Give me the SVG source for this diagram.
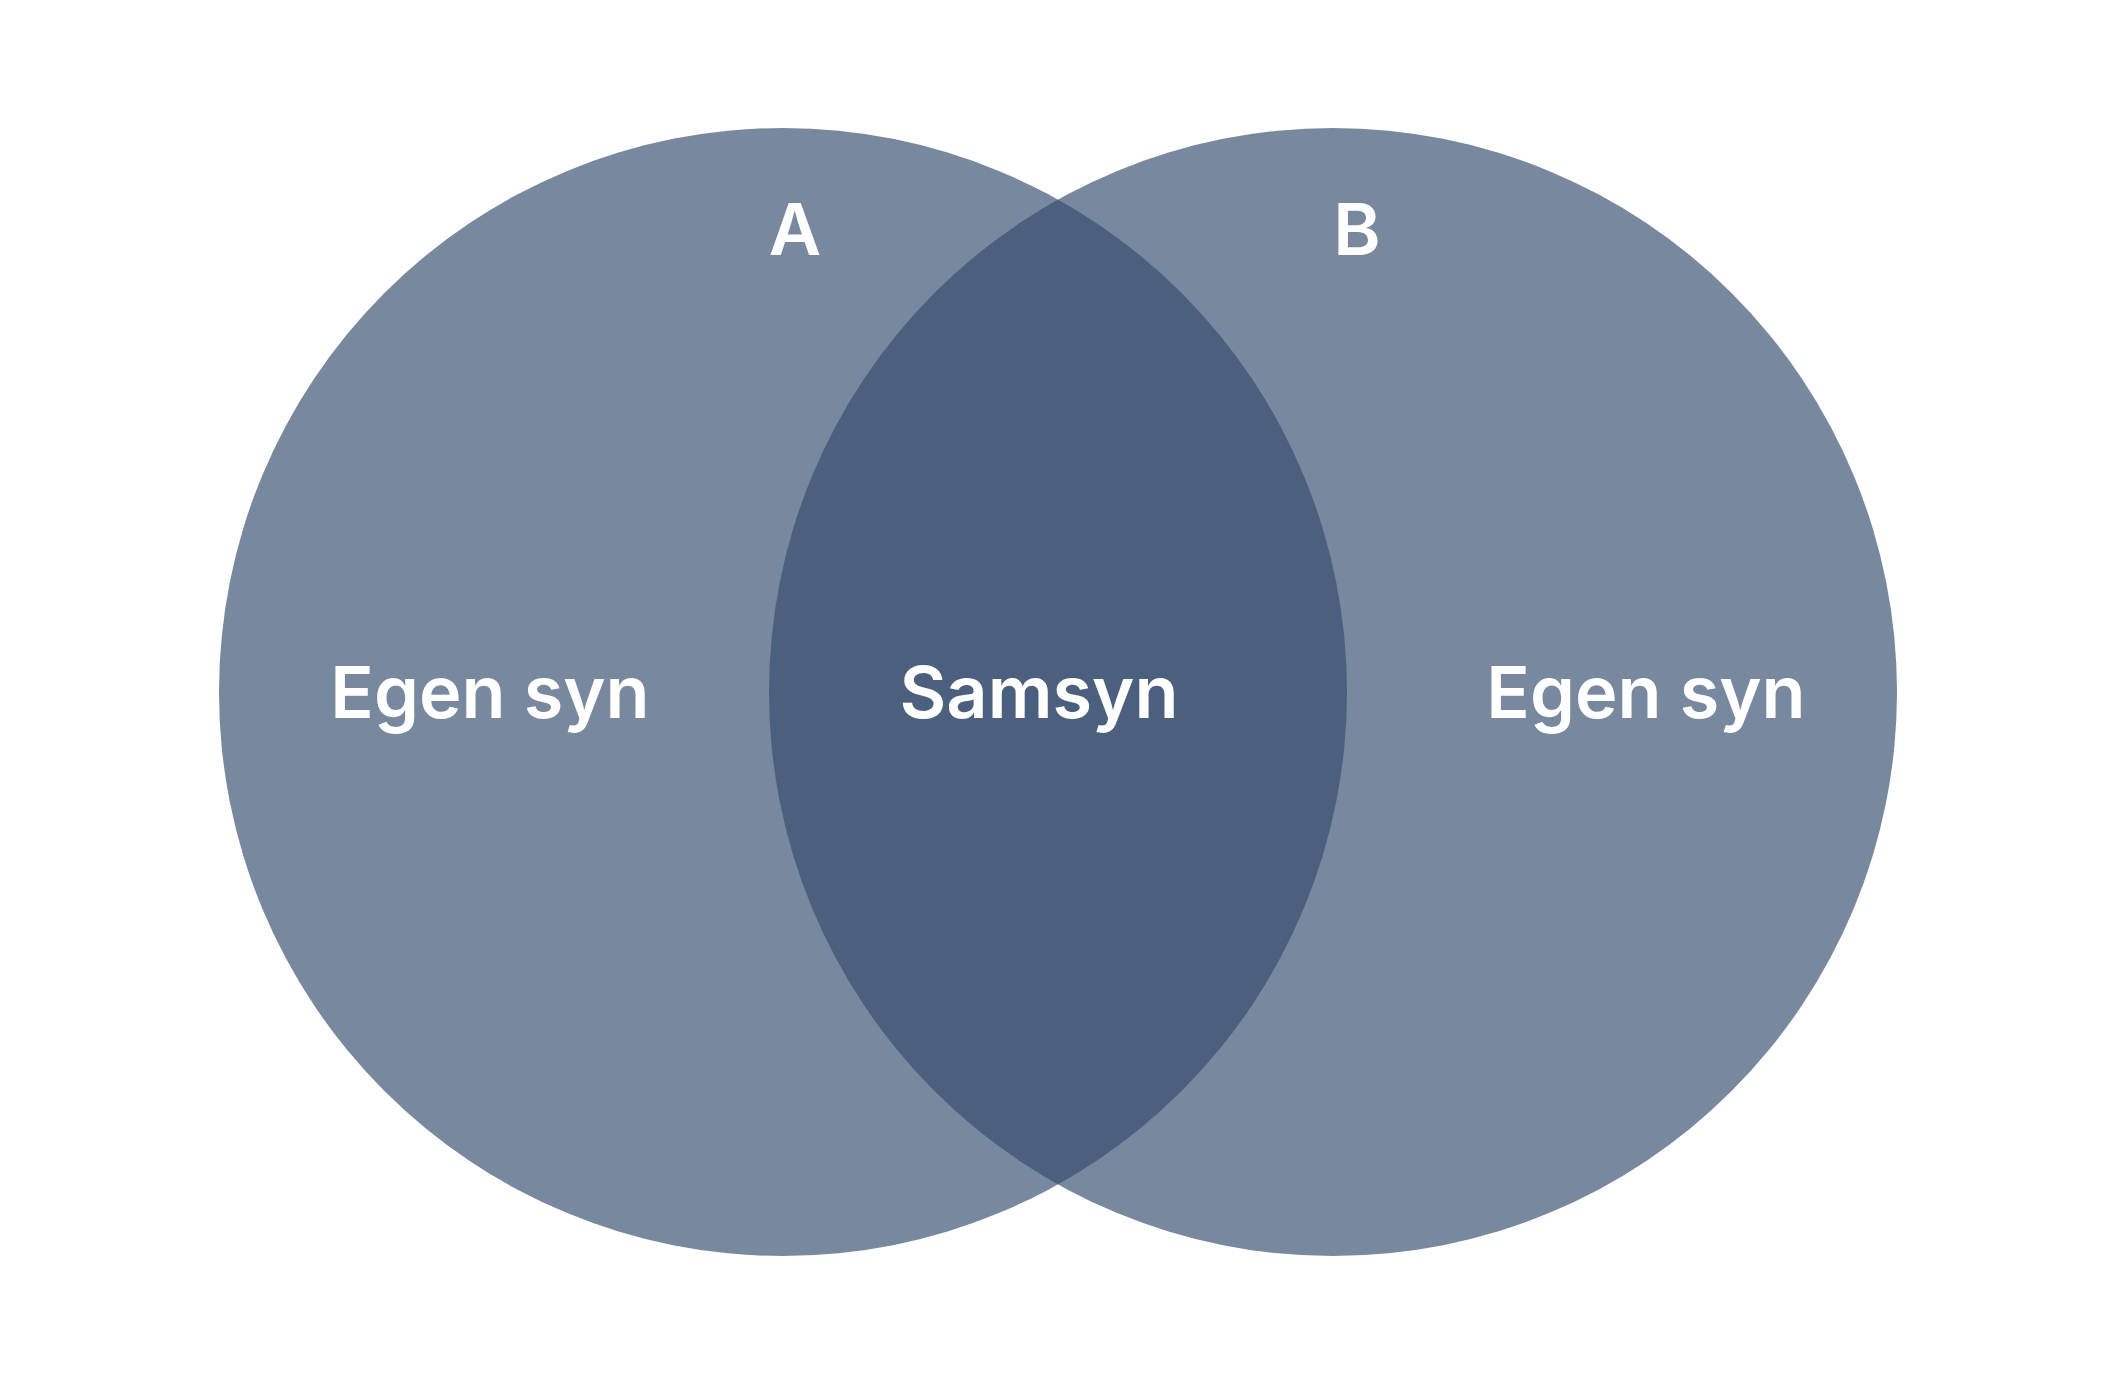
<svg xmlns="http://www.w3.org/2000/svg" width="2126" height="1384" viewBox="0 0 2126 1384">
<style>
.c{fill:#354d6e;fill-opacity:0.667}
.t{font-family:Inter,Roboto,"Liberation Sans",sans-serif;font-weight:600;font-size:72px;fill:#ffffff;text-anchor:middle}
</style>
<rect width="2126" height="1384" fill="#ffffff"/>
<g id="circleA"><circle class="c" cx="783" cy="692" r="564"/></g>
<g id="circleB"><circle class="c" cx="1333" cy="692" r="564"/></g>
<g id="labels">
<text class="t" x="795" y="255">A</text>
<text class="t" x="1357" y="255">B</text>
<text class="t" x="490" y="718">Egen syn</text>
<text class="t" x="1039" y="718">Samsyn</text>
<text class="t" x="1646" y="718">Egen syn</text>
</g>
<g id="connectors"></g>
</svg>
